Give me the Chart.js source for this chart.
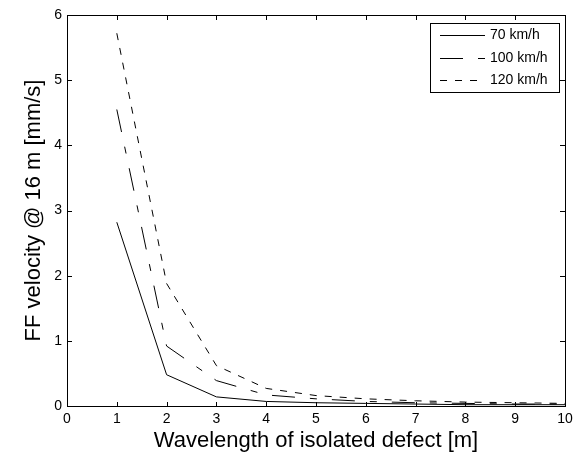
<!DOCTYPE html>
<html>
<head>
<meta charset="utf-8">
<script src="https://cdn.jsdelivr.net/npm/chart.js@4/dist/chart.umd.min.js"></script>
<style>
  html, body { margin: 0; padding: 0; background: #fff; }
  #wrap { width: 579px; height: 454px; }
</style>
</head>
<body>
<div id="wrap"><canvas id="myChart" width="579" height="454"></canvas></div>
<script>
// wavelength of the defect [m]
const wavelength = [1, 2, 3, 4, 5, 6, 7, 8, 9, 10];
// FF velocity at 16 m [mm/s]
const speed70 = [2.82, 0.48, 0.14, 0.07, 0.05, 0.04, 0.03, 0.02, 0.02, 0.02];
const speed100 = [4.55, 0.92, 0.39, 0.17, 0.11, 0.07, 0.05, 0.04, 0.03, 0.03];
const speed120 = [5.72, 1.88, 0.62, 0.27, 0.16, 0.11, 0.08, 0.06, 0.05, 0.04];
const seriesNames = ['70 km/h', '100 km/h', '120 km/h'];
const xTicks = [0, 1, 2, 3, 4, 5, 6, 7, 8, 9, 10];
const yTicks = [0, 1, 2, 3, 4, 5, 6];

const FONT = 'Liberation Sans, Arial, Helvetica, sans-serif';

function toPoints(vals) {
    return wavelength.map((w, i) => ({x: w, y: vals[i]}));
}

// box round the plot with inward ticks, matlab style
const frame = {
    id: 'frame',
    afterDraw(chart) {
        const {ctx, chartArea: {left, top, right, bottom}, scales: {x, y}} = chart;
        ctx.save();
        ctx.strokeStyle = '#000';
        ctx.lineWidth = 1;
        ctx.strokeRect(left + 0.5, top + 0.5, right - left, bottom - top);
        ctx.beginPath();
        xTicks.forEach(v => {
            const px = Math.round(x.getPixelForValue(v)) + 0.5;
            ctx.moveTo(px, bottom); ctx.lineTo(px, bottom - 4);
            ctx.moveTo(px, top); ctx.lineTo(px, top + 5);
        });
        yTicks.forEach(v => {
            const py = Math.round(y.getPixelForValue(v)) + 0.5;
            ctx.moveTo(left, py); ctx.lineTo(left + 5, py);
            ctx.moveTo(right, py); ctx.lineTo(right - 5, py);
        });
        ctx.stroke();

        // legend
        const bx = 430.5, by = 23.5, bw = 129, bh = 69;
        ctx.fillStyle = '#fff';
        ctx.fillRect(bx, by, bw, bh);
        ctx.strokeRect(bx, by, bw, bh);
        const rows = [35.5, 58.5, 80.5];
        ctx.font = '14px ' + FONT;
        ctx.textBaseline = 'middle';
        chart.data.datasets.forEach((ds, i) => {
            ctx.beginPath();
            ctx.setLineDash(ds.borderDash || []);
            ctx.moveTo(440, rows[i]);
            ctx.lineTo(485, rows[i]);
            ctx.stroke();
            ctx.setLineDash([]);
            ctx.fillStyle = '#000';
            ctx.fillText(ds.label, 490, rows[i]);
        });
        ctx.restore();
    }
};

const ctx = document.getElementById('myChart').getContext('2d');
const myChart = new Chart(ctx, {
    type: 'line',
    data: {
        datasets: [{
            label: seriesNames[0],
            data: toPoints(speed70),
            borderColor: '#000',
            borderWidth: 1,
            borderDash: []
        }, {
            label: seriesNames[1],
            data: toPoints(speed100),
            borderColor: '#000',
            borderWidth: 1,
            borderDash: [23, 15, 7, 15]
        }, {
            label: seriesNames[2],
            data: toPoints(speed120),
            borderColor: '#000',
            borderWidth: 1,
            borderDash: [7, 8]
        }]
    },
    options: {
        responsive: false,
        animation: false,
        layout: {
            padding: {top: 15, right: 14, left: 0, bottom: 0}
        },
        elements: {
            point: { radius: 0 },
            line: { tension: 0, fill: false }
        },
        scales: {
            x: {
                type: 'linear',
                min: 0,
                max: 10,
                afterBuildTicks: s => { s.ticks = xTicks.map(v => ({value: v})); },
                afterFit: s => { s.height = 48; },
                grid: { display: false, drawTicks: false },
                border: { display: false },
                ticks: {
                    color: '#000',
                    padding: 5,
                    maxRotation: 0,
                    font: { family: FONT, size: 14 }
                },
                title: {
                    display: true,
                    text: 'Wavelength of isolated defect [m]',
                    color: '#000',
                    padding: {top: 0, bottom: 0},
                    font: { family: FONT, size: 22 }
                }
            },
            y: {
                min: 0,
                max: 6,
                afterBuildTicks: s => { s.ticks = yTicks.map(v => ({value: v})); },
                afterFit: s => { s.width = 67; },
                grid: { display: false, drawTicks: false },
                border: { display: false },
                ticks: {
                    color: '#000',
                    padding: 5,
                    font: { family: FONT, size: 14 }
                },
                title: {
                    display: true,
                    text: 'FF velocity @ 16 m [mm/s]',
                    color: '#000',
                    padding: {top: 21, bottom: 0},
                    font: { family: FONT, size: 22 }
                }
            }
        },
        plugins: {
            legend: { display: false },
            tooltip: { enabled: false }
        }
    },
    plugins: [frame]
});
</script>
</body>
</html>
